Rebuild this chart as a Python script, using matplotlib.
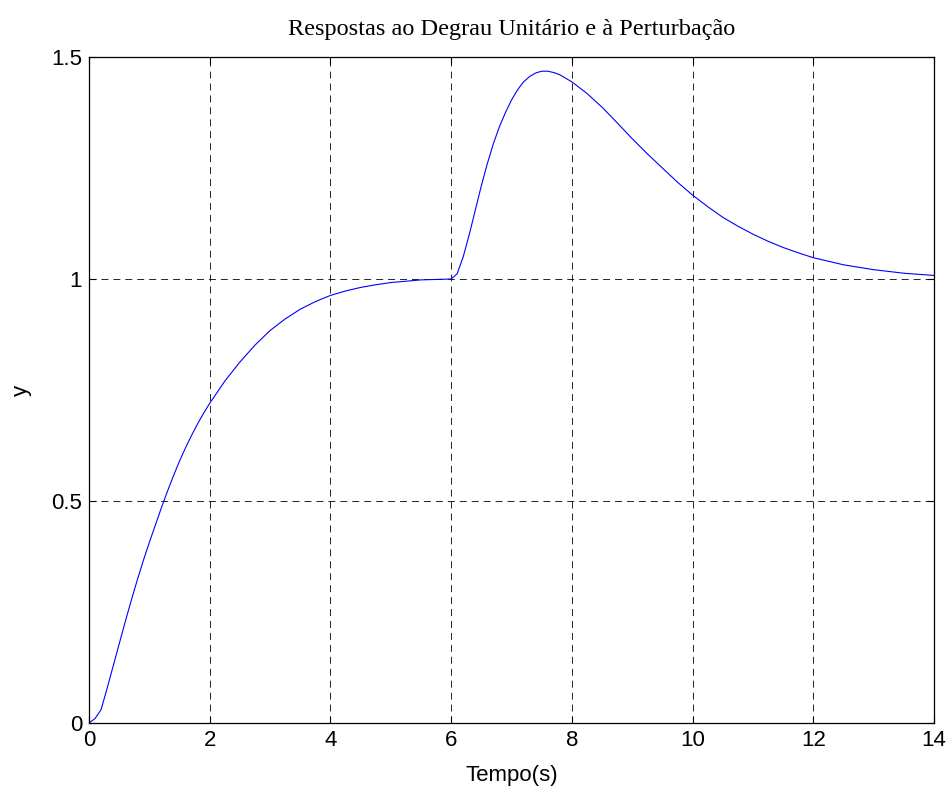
import matplotlib
matplotlib.use("Agg")
import matplotlib.pyplot as plt

# Unit step response (0 to 6 s) followed by the disturbance response (6 to 14 s)
tempo = [0.0, 0.1, 0.2, 0.3, 0.4, 0.5, 0.6, 0.7, 0.8, 0.9, 1.0, 1.1, 1.2, 1.3,
         1.4, 1.5, 1.6, 1.7, 1.8, 1.9, 2.0, 2.25, 2.5, 2.75, 3.0, 3.25, 3.5,
         3.75, 4.0, 4.25, 4.5, 4.75, 5.0, 5.25, 5.5, 5.75, 6.0,
         6.1, 6.2, 6.3, 6.4, 6.5, 6.6, 6.7, 6.8, 6.9, 7.0, 7.1, 7.2, 7.3, 7.4,
         7.5, 7.6, 7.7, 7.8, 7.9, 8.0, 8.25, 8.5, 8.75, 9.0, 9.25, 9.5, 9.75,
         10.0, 10.25, 10.5, 10.75, 11.0, 11.25, 11.5, 11.75, 12.0, 12.5, 13.0,
         13.5, 14.0]
y = [0.0, 0.01, 0.03, 0.078, 0.128, 0.178, 0.228, 0.276, 0.322, 0.366, 0.407,
     0.446, 0.485, 0.522, 0.557, 0.59, 0.62, 0.648, 0.674, 0.698, 0.72, 0.77,
     0.813, 0.851, 0.884, 0.91, 0.932, 0.949, 0.963, 0.973, 0.981, 0.987,
     0.992, 0.995, 0.998, 0.999, 1.0,
     1.012, 1.05, 1.1, 1.155, 1.21, 1.26, 1.305, 1.343, 1.375, 1.403, 1.426,
     1.444, 1.456, 1.464, 1.468, 1.468, 1.465, 1.46, 1.452, 1.444, 1.418,
     1.387, 1.352, 1.316, 1.282, 1.25, 1.218, 1.189, 1.163, 1.139, 1.119,
     1.101, 1.085, 1.071, 1.059, 1.048, 1.032, 1.021, 1.013, 1.008]

xticks = [0, 2, 4, 6, 8, 10, 12, 14]
yticks = [0, 0.5, 1, 1.5]
yticklabels = ["0", "0.5", "1", "1.5"]

plt.rcParams["lines.scale_dashes"] = False

W, H = 949, 789
fig = plt.figure(figsize=(W / 100, H / 100), dpi=100)
ax = fig.add_axes([89 / W, 1 - 723 / H, 845 / W, 666 / H])

ax.plot(tempo, y, color=(0, 0, 1), linewidth=0.8)

ax.set_xlim(0, 14)
ax.set_ylim(0, 1.5)
ax.set_xticks(xticks)
ax.set_yticks(yticks)
ax.set_yticklabels(yticklabels)

ax.grid(True, color="black", linestyle=(0, (5, 3.6)), linewidth=0.6)

sans = ["Liberation Sans", "DejaVu Sans"]
for lab in ax.get_xticklabels() + ax.get_yticklabels():
    lab.set_family(sans)
    lab.set_fontsize(16)

ax.tick_params(direction="in", length=5, width=0.8, top=True, right=True,
               pad=5, colors="black")
for s in ax.spines.values():
    s.set_linewidth(0.9)
    s.set_color("black")

ax.set_xlabel("Tempo(s)", family=sans, fontsize=16, labelpad=10)
ax.set_ylabel("y", family=sans, fontsize=16, labelpad=14)
ax.set_title("Respostas ao Degrau Unitário e à Perturbação",
             family=["Liberation Serif", "DejaVu Serif"], fontsize=17.5, pad=16)

fig.savefig("out.png", dpi=100, facecolor="white")
